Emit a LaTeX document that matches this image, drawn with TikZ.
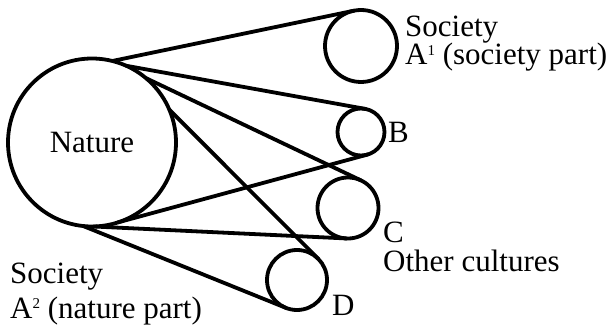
\documentclass[tikz,border=0pt]{standalone}
\usepackage{fontspec}
\setmainfont{Liberation Serif}
\newcommand{\smallsup}[1]{\raisebox{9.5pt}{\fontsize{15}{15}\selectfont #1}}
\begin{document}
\begin{tikzpicture}[x=1pt,y=-1pt,
  circ/.style={circle,draw,line width=3.8pt,inner sep=0pt,outer sep=0pt},
  conn/.style={line width=3.8pt,line cap=round},
  lbl/.style={anchor=base west,inner sep=0pt,font=\fontsize{31}{34}\selectfont}]
\useasboundingbox (0,0) rectangle (611,326);
\node[circ,minimum size=168pt,font=\fontsize{31}{34}\selectfont] (nat) at (92,142.5) {Nature};
\node[circ,minimum size=72pt] (a1) at (361,46) {};
\node[circ,minimum size=47pt] (b) at (361,132) {};
\node[circ,minimum size=61pt] (c) at (348,208) {};
\node[circ,minimum size=60pt] (d) at (297,280) {};
\draw[conn] (nat.76) -- (a1.101);
\draw[conn] (nat.66) -- (b.79);
\draw[conn] (nat.50) -- (c.65);
\draw[conn] (nat.23) -- (d.45);
\draw[conn] (nat.-72) -- (b.-73);
\draw[conn] (nat.-89) -- (c.-92);
\draw[conn] (nat.-96) -- (d.-111);
\node[lbl] (s1) at (405,37) {Society};
\node[lbl] (s1b) at (405,65) {A\smallsup{1} (society part)};
\node[lbl] (lb) at (388,143) {B};
\node[lbl] (lc) at (383,242) {C};
\node[lbl] (oc) at (383,272) {Other cultures};
\node[lbl] (ld) at (332,315) {D};
\node[lbl] (s2) at (10,283) {Society};
\node[lbl] (s2b) at (10,318) {A\smallsup{2} (nature part)};
\end{tikzpicture}
\end{document}
